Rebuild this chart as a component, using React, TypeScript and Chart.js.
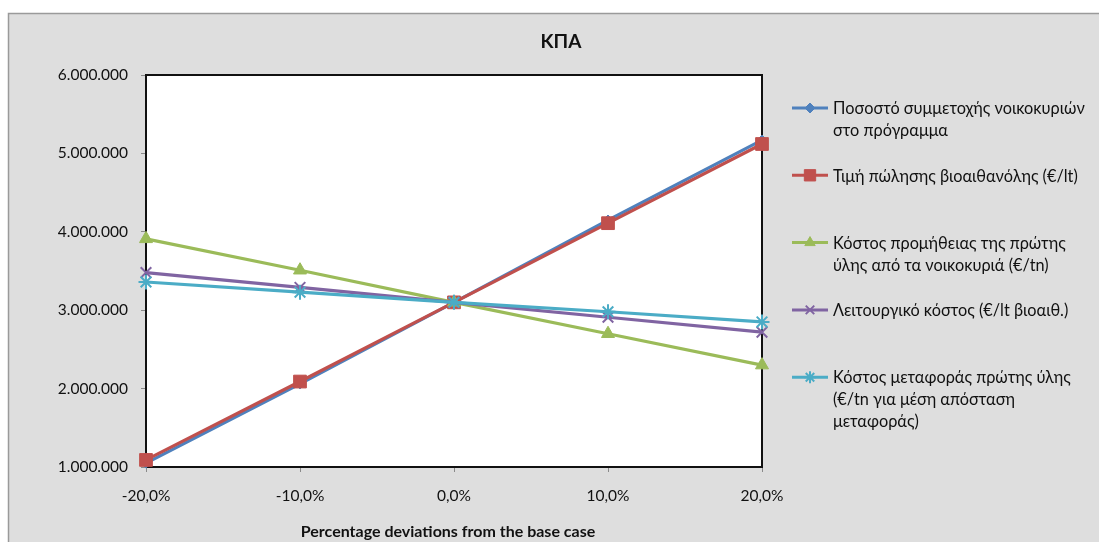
import React, { useEffect, useRef } from "react";
import { Chart, registerables } from "chart.js";
import { drawPoint } from "chart.js/helpers";

Chart.register(...registerables);

// Sensitivity of ΚΠΑ to percentage deviations of each parameter
const CATEGORIES = ["-20,0%", "-10,0%", "0,0%", "10,0%", "20,0%"];
const PARTICIPATION = [1050000, 2060000, 3100000, 4150000, 5170000];
const ETHANOL_PRICE = [1090000, 2090000, 3100000, 4110000, 5120000];
const SUPPLY_COST = [3910000, 3510000, 3100000, 2700000, 2300000];
const OPERATING_COST = [3480000, 3290000, 3100000, 2910000, 2720000];
const TRANSPORT_COST = [3360000, 3230000, 3100000, 2980000, 2850000];

const SERIES_LABELS: string[][] = [
  ["Ποσοστό συμμετοχής νοικοκυριών", "στο πρόγραμμα"],
  ["Τιμή πώλησης βιοαιθανόλης (€/lt)"],
  ["Κόστος προμήθειας της πρώτης", "ύλης από τα νοικοκυριά (€/tn)"],
  ["Λειτουργικό κόστος (€/lt βιοαιθ.)"],
  ["Κόστος μεταφοράς πρώτης ύλης", "(€/tn για μέση απόσταση", "μεταφοράς)"],
];

const Y_MIN = 1000000;
const Y_MAX = 6000000;
const Y_STEP = 1000000;

const TITLE = "ΚΠΑ";
const X_TITLE = "Percentage deviations from the base case";

const FONT = "Lato, 'Open Sans', sans-serif";

const formatThousands = (v: number) =>
  Math.round(v).toString().replace(/\B(?=(\d{3})+(?!\d))/g, ".");

const frame = {
  id: "frame",
  beforeDraw(chart: any) {
    const { ctx, width, height, chartArea } = chart;
    ctx.save();
    ctx.fillStyle = "#ffffff";
    ctx.fillRect(0, 0, width, height);
    ctx.fillStyle = "#dedede";
    ctx.fillRect(8, 13, width + 10, height);
    ctx.strokeStyle = "#9a9a9a";
    ctx.lineWidth = 1.5;
    ctx.strokeRect(8.5, 13.5, width + 10, height);
    ctx.fillStyle = "#ffffff";
    ctx.fillRect(chartArea.left, chartArea.top, chartArea.width, chartArea.height);
    ctx.restore();
  },
  beforeDatasetsDraw(chart: any) {
    const { ctx, chartArea } = chart;
    ctx.save();
    ctx.strokeStyle = "#111111";
    ctx.lineWidth = 2;
    ctx.strokeRect(chartArea.left, chartArea.top, chartArea.width, chartArea.height);
    ctx.restore();
  },
  afterDraw(chart: any) {
    const { ctx, chartArea } = chart;
    ctx.save();
    ctx.fillStyle = "#111111";
    ctx.textAlign = "center";
    ctx.textBaseline = "middle";
    ctx.font = `bold 19px ${FONT}`;
    ctx.fillText(TITLE, 561, 42);
    ctx.font = `bold 16px ${FONT}`;
    ctx.fillText(X_TITLE, (chartArea.left + chartArea.right) / 2 - 6, 532);

    // legend on the right
    const lineX0 = 792;
    const lineX1 = 828;
    const textX = 833;
    const firstY = 108;
    const gap = 67.3;
    const lineH = 22;
    chart.data.datasets.forEach((ds: any, i: number) => {
      const y = firstY + i * gap;
      ctx.strokeStyle = ds.borderColor;
      ctx.lineWidth = 3;
      ctx.beginPath();
      ctx.moveTo(lineX0, y);
      ctx.lineTo(lineX1, y);
      ctx.stroke();
      ctx.fillStyle = ds.borderColor;
      ctx.lineWidth = ds.pointBorderWidth;
      drawPoint(
        ctx,
        {
          pointStyle: ds.pointStyle,
          radius: ds.legendRadius,
          borderWidth: ds.pointBorderWidth,
          rotation: 0,
        } as any,
        (lineX0 + lineX1) / 2,
        y
      );
      ctx.fillStyle = "#111111";
      ctx.textAlign = "left";
      ctx.textBaseline = "middle";
      ctx.font = `16.3px ${FONT}`;
      SERIES_LABELS[i].forEach((t, j) => ctx.fillText(t, textX, y + 1 + j * lineH));
    });
    ctx.restore();
  },
};

function series(
  index: number,
  data: number[],
  color: string,
  style: string,
  radius: number,
  legendRadius: number,
  bw: number
) {
  return {
    label: SERIES_LABELS[index].join(" "),
    data,
    order: SERIES_LABELS.length - index,
    borderColor: color,
    backgroundColor: color,
    pointBackgroundColor: color,
    pointBorderColor: color,
    borderWidth: 3.2,
    pointStyle: style,
    pointRadius: radius,
    pointBorderWidth: bw,
    legendRadius,
    tension: 0,
    clip: false as any,
  };
}

export default function App() {
  const ref = useRef<HTMLCanvasElement>(null);

  useEffect(() => {
    if (!ref.current) return;
    const chart = new Chart(ref.current, {
      type: "line",
      data: {
        labels: CATEGORIES,
        datasets: [
          series(0, PARTICIPATION, "#4f81bd", "rectRot", 5, 5, 1),
          series(1, ETHANOL_PRICE, "#c0504d", "rect", 9, 8, 1),
          series(2, SUPPLY_COST, "#9bbb59", "triangle", 7.5, 6, 1),
          series(3, OPERATING_COST, "#8064a2", "crossRot", 7.5, 6, 2),
          series(4, TRANSPORT_COST, "#4bacc6", "star", 7.5, 6, 2),
        ] as any,
      },
      options: {
        animation: false,
        responsive: false,
        devicePixelRatio: 1,
        layout: { padding: { left: 0, right: 337, top: 75, bottom: 0 } },
        plugins: {
          legend: { display: false },
          title: { display: false },
          tooltip: { enabled: false },
        },
        scales: {
          x: {
            type: "category",
            offset: false,
            border: { display: false },
            grid: {
              display: true,
              drawOnChartArea: false,
              drawTicks: true,
              tickLength: 5,
              color: "#8a8a8a",
            },
            ticks: {
              color: "#111111",
              font: { family: FONT, size: 15.5 },
              padding: 15,
              maxRotation: 0,
              autoSkip: false,
            },
            afterFit(scale: any) {
              scale.height = 75;
            },
          },
          y: {
            min: Y_MIN,
            max: Y_MAX,
            border: { display: false },
            grid: {
              display: true,
              drawOnChartArea: false,
              drawTicks: true,
              tickLength: 5,
              color: "#8a8a8a",
            },
            ticks: {
              stepSize: Y_STEP,
              color: "#111111",
              font: { family: FONT, size: 15.5 },
              padding: 13,
              callback: (v: any) => formatThousands(Number(v)),
            },
            afterFit(scale: any) {
              scale.width = 146;
            },
          },
        },
      },
      plugins: [frame],
    });
    return () => chart.destroy();
  }, []);

  return (
    <div style={{ position: "absolute", left: 0, top: 0, width: 1099, height: 542 }}>
      <canvas ref={ref} width={1099} height={542} style={{ display: "block" }} />
    </div>
  );
}
